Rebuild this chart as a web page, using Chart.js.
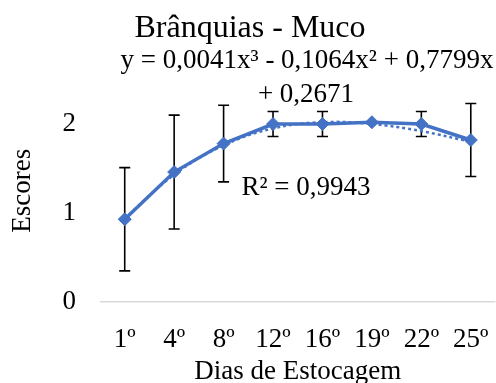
<!DOCTYPE html>
<html>
<head>
<meta charset="utf-8">
<script src="https://cdn.jsdelivr.net/npm/chart.js@4/dist/chart.umd.min.js"></script>
<style>
html,body{margin:0;padding:0;overflow:hidden;background:#fff;width:496px;height:383px;}
canvas{display:block;}
</style>
</head>
<body>
<canvas id="c" width="503" height="383" style="width:503px;height:383px"></canvas>
<script>
const categories = ['1º', '4º', '8º', '12º', '16º', '19º', '22º', '25º'];
const meanScores = [0.93, 1.46, 1.78, 2.0, 2.0, 2.02, 2.0, 1.82];
const errorScores = [0.58, 0.64, 0.43, 0.14, 0.14, 0, 0.14, 0.41];
const trendScores = [0.94, 1.43, 1.76, 1.95, 2.02, 2.00, 1.92, 1.80];
const yTicks = [0, 1, 2];

const chartTitle = 'Brânquias - Muco';
const eqLine1 = 'y = 0,0041x³ - 0,1064x² + 0,7799x';
const eqLine2 = '+ 0,2671';
const r2Text = 'R² = 0,9943';

const FONT = '"Liberation Serif", "Times New Roman", serif';
const BLUE = '#4472C4';

const errorBars = {
  id: 'errorBars',
  beforeDatasetsDraw(chart) {
    const ctx = chart.ctx;
    const xs = chart.scales.x, ys = chart.scales.y;
    ctx.save();
    ctx.strokeStyle = '#000';
    ctx.lineWidth = 1.6;
    meanScores.forEach((m, i) => {
      const e = errorScores[i];
      if (!e) return;
      const x = xs.getPixelForValue(i);
      const yt = ys.getPixelForValue(m + e);
      const yb = ys.getPixelForValue(m - e);
      ctx.beginPath();
      ctx.moveTo(x, yt); ctx.lineTo(x, yb);
      ctx.moveTo(x - 5.5, yt); ctx.lineTo(x + 5.5, yt);
      ctx.moveTo(x - 5.5, yb); ctx.lineTo(x + 5.5, yb);
      ctx.stroke();
    });
    ctx.restore();
  }
};

const texts = {
  id: 'texts',
  afterDraw(chart) {
    const ctx = chart.ctx;
    ctx.save();
    ctx.fillStyle = '#000';
    ctx.textAlign = 'center';
    ctx.textBaseline = 'alphabetic';
    ctx.font = '32px ' + FONT;
    ctx.fillText(chartTitle, 250, 37);
    ctx.font = '27px ' + FONT;
    ctx.fillText(eqLine1, 307, 68);
    ctx.fillText(eqLine2, 306, 102);
    ctx.fillText(r2Text, 306, 195);
    ctx.restore();
  }
};

new Chart(document.getElementById('c'), {
  type: 'line',
  data: {
    labels: categories,
    datasets: [
      {
        label: 'Tendência',
        data: trendScores,
        borderColor: BLUE,
        borderWidth: 2.5,
        borderDash: [3, 3],
        pointRadius: 0,
        tension: 0.4,
        fill: false,
        order: 0
      },
      {
        label: 'Escores',
        data: meanScores,
        borderColor: BLUE,
        backgroundColor: BLUE,
        borderWidth: 3.5,
        pointStyle: 'rectRot',
        pointRadius: 6.5,
        pointBorderWidth: 1,
        tension: 0,
        fill: false,
        order: 1
      }
    ]
  },
  options: {
    responsive: false,
    animation: false,
    devicePixelRatio: 1,
    layout: { padding: { top: 79.5, left: 0, right: 0, bottom: 0 } },
    plugins: { legend: { display: false }, tooltip: { enabled: false }, title: { display: false } },
    scales: {
      x: {
        offset: true,
        grid: { display: false },
        border: { display: false },
        ticks: { color: '#000', font: { family: FONT, size: 27 }, padding: 14, maxRotation: 0 },
        title: { display: true, text: 'Dias de Estocagem', color: '#000', font: { family: FONT, size: 27, lineHeight: 0.8 }, padding: 0 },
        afterFit(s) { s.height = 81; }
      },
      y: {
        min: 0, max: 2.5,
        grid: {
          drawTicks: false,
          lineWidth: 1.5,
          color: (c) => (c.tick && c.tick.value === 0 ? '#d9d9d9' : 'rgba(0,0,0,0)')
        },
        border: { display: false },
        afterBuildTicks(s) { s.ticks = yTicks.map(v => ({ value: v })); },
        ticks: { color: '#000', font: { family: FONT, size: 27 }, padding: 24 },
        title: { display: true, text: 'Escores', color: '#000', font: { family: FONT, size: 27, lineHeight: 1.2 }, padding: { top: 7, bottom: 0 } },
        afterFit(s) { s.width = 100; }
      }
    }
  },
  plugins: [errorBars, texts]
});
</script>
</body>
</html>
